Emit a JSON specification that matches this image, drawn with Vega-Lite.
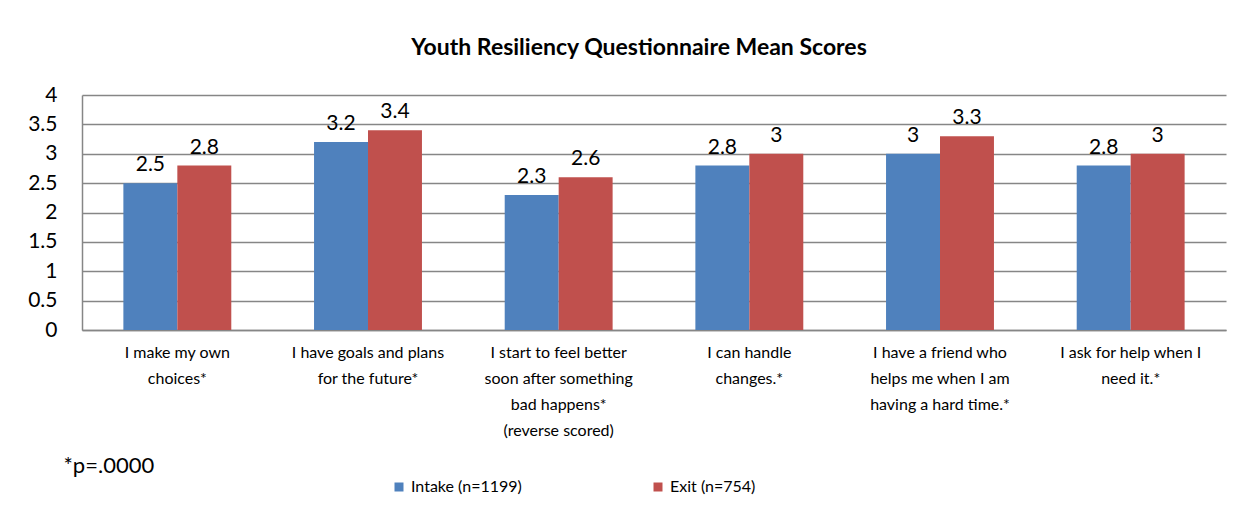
{
  "$schema": "https://vega.github.io/schema/vega-lite/v6.json",
  "width": 1144,
  "height": 235,
  "autosize": {"type": "none"},
  "padding": {"left": 82, "top": 95, "right": 26, "bottom": 188},
  "background": "white",
  "title": {"text": "Youth Resiliency Questionnaire Mean Scores", "font": "Lato", "fontSize": 23, "fontWeight": "bold", "color": "black", "anchor": "middle", "offset": 24, "dx": -15},
  "config": {
    "view": {"stroke": null},
    "font": "Lato",
    "axis": {"labelColor": "black", "labelFont": "Lato", "titleFont": "Lato", "titleColor": "black"},
    "legend": {"labelFont": "Lato", "labelColor": "black"}
  },
  "data": {"values": [
    {"item": "I make my own|choices*", "group": "Intake (n=1199)", "score": 2.5},
    {"item": "I make my own|choices*", "group": "Exit (n=754)", "score": 2.8},
    {"item": "I have goals and plans|for the future*", "group": "Intake (n=1199)", "score": 3.2},
    {"item": "I have goals and plans|for the future*", "group": "Exit (n=754)", "score": 3.4},
    {"item": "I start to feel better|soon after something|bad happens*|(reverse scored)", "group": "Intake (n=1199)", "score": 2.3},
    {"item": "I start to feel better|soon after something|bad happens*|(reverse scored)", "group": "Exit (n=754)", "score": 2.6},
    {"item": "I can handle|changes.*", "group": "Intake (n=1199)", "score": 2.8},
    {"item": "I can handle|changes.*", "group": "Exit (n=754)", "score": 3.0},
    {"item": "I have a friend who|helps me when I am|having a hard time.*", "group": "Intake (n=1199)", "score": 3.0},
    {"item": "I have a friend who|helps me when I am|having a hard time.*", "group": "Exit (n=754)", "score": 3.3},
    {"item": "I ask for help when I|need it.*", "group": "Intake (n=1199)", "score": 2.8},
    {"item": "I ask for help when I|need it.*", "group": "Exit (n=754)", "score": 3.0}
  ]},
  "encoding": {
    "x": {
      "field": "item", "type": "nominal", "sort": null,
      "scale": {"paddingInner": 0.434, "paddingOuter": 0.217},
      "axis": {
        "title": "*p=.0000", "titleFontSize": 22, "titleFontWeight": "normal",
        "titleAnchor": "start", "titleAlign": "left", "titleBaseline": "middle",
        "titleX": -19, "titleY": 135,
        "labelExpr": "split(datum.label, '|')", "labelAngle": 0, "labelFontSize": 16,
        "labelLineHeight": 26, "labelPadding": 14, "ticks": false,
        "domainColor": "#868686", "domainWidth": 1.5, "labelLimit": 400
      }
    },
    "xOffset": {"field": "group", "type": "nominal", "sort": ["Intake (n=1199)", "Exit (n=754)"], "scale": {"paddingInner": 0}},
    "y": {
      "field": "score", "type": "quantitative",
      "scale": {"domain": [0, 4], "nice": false},
      "axis": {
        "title": null, "values": [0, 0.5, 1, 1.5, 2, 2.5, 3, 3.5, 4], "format": "~g",
        "grid": true, "gridColor": "#868686", "gridWidth": 1.5,
        "domainColor": "#868686", "domainWidth": 1.5, "ticks": false,
        "labelFontSize": 21, "labelPadding": 25
      }
    }
  },
  "layer": [
    {
      "mark": {"type": "bar"},
      "encoding": {
        "color": {
          "field": "group", "type": "nominal",
          "scale": {"domain": ["Intake (n=1199)", "Exit (n=754)"], "range": ["#4F81BD", "#C0504D"]},
          "legend": {
            "title": null, "orient": "none", "direction": "horizontal",
            "legendX": 309, "legendY": 384, "symbolType": "square", "symbolSize": 81,
            "symbolStrokeWidth": 0, "labelFontSize": 16, "columnPadding": 128, "labelOffset": 4
          }
        }
      }
    },
    {
      "mark": {"type": "text", "baseline": "bottom", "dy": -8, "fontSize": 21, "color": "black"},
      "encoding": {"text": {"field": "score", "type": "quantitative"}}
    }
  ]
}
